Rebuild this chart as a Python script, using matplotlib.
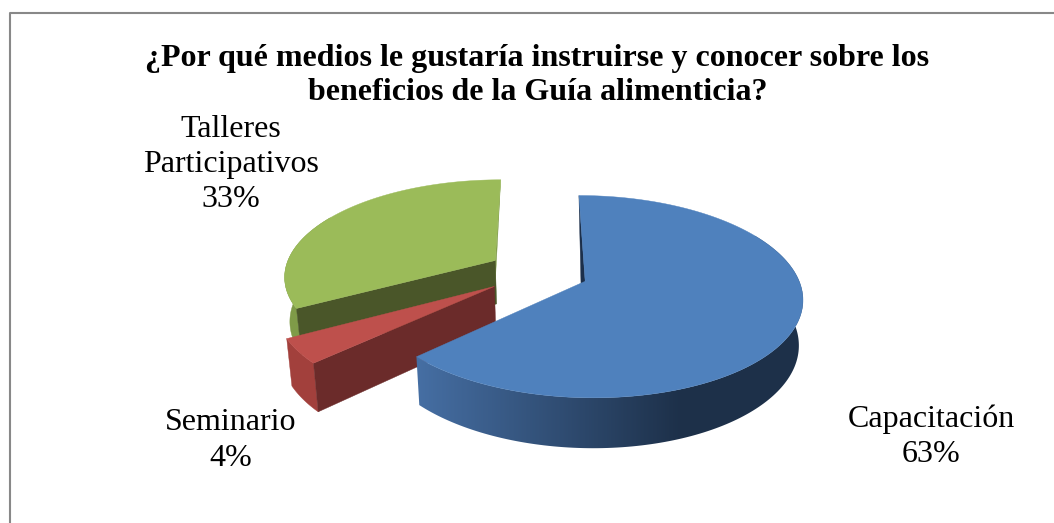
#!/usr/bin/env python
"""Exploded 3D-look pie, built as projected polygons in pixel space."""

import numpy as np
import matplotlib

matplotlib.use("Agg")
import matplotlib.pyplot as plt
from matplotlib.colors import LinearSegmentedColormap
from matplotlib.patches import Polygon

categories = ["Capacitación", "Seminario", "Talleres\nParticipativos"]
values = [63, 4, 33]
title = "¿Por qué medios le gustaría instruirse y conocer sobre los\nbeneficios de la Guía alimenticia?"

top_colors = ["#4f81bd", "#be504c", "#9bbb59"]
wall_colors = ["#1d3049", "#a2403c", "#7f9b48"]
face_colors = ["#1c2f4a", "#6b2b2a", "#4a5629"]
explode = [0.24, 0.25, 0.24]
label_pos = [(931, 436.5), (231, 440.5), (231, 164.5)]

# pie geometry, pixels
CX, CY = 538, 272
RX, RY = 211, 96
PERSP = 0.15
DEPTH = 44
SHRINK = 0.982
X0 = 575

blue_shade = LinearSegmentedColormap.from_list("blue_shade", ["#466fa4", wall_colors[0]])


def project(u, v, bottom=False):
    p = 1 / (1 - PERSP * v)
    x, y = RX * u * p, RY * v * p
    if bottom:
        return X0 + (CX + x - X0) * SHRINK, CY + y * SHRINK + DEPTH * p
    return CX + x, CY + y


def draw_slice(ax, i, t0, t1):
    mid = (t0 + t1) / 2
    ou, ov = explode[i] * np.sin(mid), -explode[i] * np.cos(mid)
    ts = np.linspace(t0, t1, 200)
    u, v = np.sin(ts) + ou, -np.cos(ts) + ov
    xt, yt = project(u, v)
    xb, yb = project(u, v, True)
    ax_t, ay_t = project(ou, ov)
    ax_b, ay_b = project(ou, ov, True)

    def face(k, col):
        ax.add_patch(Polygon(
            [(ax_t, ay_t), (xt[k], yt[k]), (xb[k], yb[k]), (ax_b, ay_b)],
            closed=True, fc=col, ec=col, lw=0.3,
        ))

    def sliver(k, col, shift):
        # back face, only a thin edge of it shows past the top
        ax.add_patch(Polygon(
            [(ax_t, ay_t), (xt[k], yt[k]), (ax_b + shift, ay_b)],
            closed=True, fc=col, ec=col, lw=0.3,
        ))

    if i == 0:
        sliver(0, face_colors[0], -3)
    elif i == 2:
        sliver(-1, wall_colors[2], -2.5)

    # wall only where it can show, the far rim stays hidden
    keep = -np.cos(ts) > -0.5
    wall = np.column_stack([np.r_[xt[keep], xb[keep][::-1]], np.r_[yt[keep], yb[keep][::-1]]])
    if i == 0:
        # blue wall fades to dark going right, flat after about x=683
        poly = Polygon(wall, closed=True, fc="none", ec="none", transform=ax.transData)
        ax.add_patch(poly)
        grad = np.clip((np.linspace(400, 810, 410) - 415) / (683 - 415), 0, 1)
        im = ax.imshow(grad[None, :], extent=(400, 810, 460, 190), cmap=blue_shade,
                       vmin=0, vmax=1, aspect="auto", zorder=1)
        im.set_clip_path(poly)
    else:
        ax.add_patch(Polygon(wall, closed=True, fc=wall_colors[i], ec=wall_colors[i], lw=0.3))

    if i in (1, 2):
        face(0, face_colors[i])

    ax.add_patch(Polygon(
        np.column_stack([np.r_[ax_t, xt], np.r_[ay_t, yt]]),
        closed=True, fc=top_colors[i], ec=top_colors[i], lw=0.3, zorder=2 if i == 0 else 1,
    ))


fig = plt.figure(figsize=(10.54, 5.23), dpi=100)
ax = fig.add_axes([0, 0, 1, 1])
ax.axis("off")

# chart frame, runs off the page right and bottom
ax.plot([9.5, 9.5, 1054], [523, 12.7, 12.7], color="#888888", lw=1.5)

angles = 2 * np.pi * np.cumsum([0] + values) / sum(values)
for i in [2, 1, 0]:
    draw_slice(ax, i, angles[i], angles[i + 1])

ax.set_xlim(0, 1054)
ax.set_ylim(523, 0)

font = ["Liberation Serif", "DejaVu Serif"]
ax.text(537.5, 75.5, title, ha="center", va="center", fontsize=23, fontweight="bold",
        family=font, linespacing=1.24, color="black", zorder=5)
for name, val, (x, y) in zip(categories, values, label_pos):
    ax.text(x, y, f"{name}\n{val}%", ha="center", va="center", fontsize=23,
            family=font, linespacing=1.29, color="black", zorder=5)

fig.savefig("out.png", dpi=100)
